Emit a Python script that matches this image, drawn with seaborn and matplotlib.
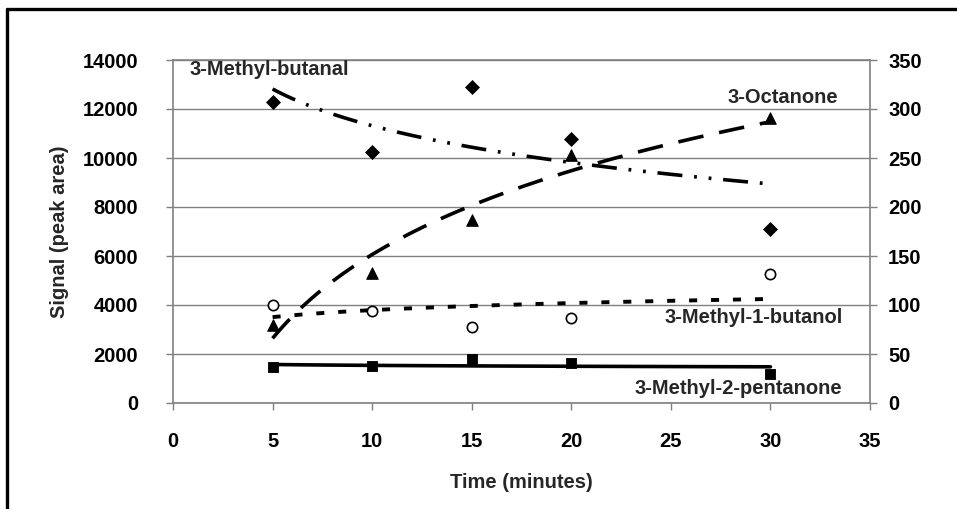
import numpy as np
import pandas as pd
import matplotlib
matplotlib.use("Agg")
import matplotlib.pyplot as plt
from matplotlib.lines import Line2D
import seaborn as sns

# ---- data ----
time_min = [5, 10, 15, 20, 30]
methyl_butanal = [12300, 10250, 12900, 10780, 7100]      # left axis
octanone = [79.6, 132.7, 186.7, 253, 291]                  # right axis
methyl_1_butanol = [4000, 3750, 3100, 3470, 5260]          # left axis
methyl_2_pentanone = [1450, 1500, 1800, 1650, 1200]        # left axis
left_ticks = [0, 2000, 4000, 6000, 8000, 10000, 12000, 14000]
right_ticks = [0, 50, 100, 150, 200, 250, 300, 350]
x_ticks = [0, 5, 10, 15, 20, 25, 30, 35]

sns.set_style("white")
plt.rcParams["font.family"] = ["Liberation Sans", "DejaVu Sans"]
plt.rcParams["font.weight"] = "bold"
plt.rcParams["lines.scale_dashes"] = False

FS = 14.5
GRAY = "#808080"

fig = plt.figure(figsize=(9.57, 5.09), dpi=100)
W, H = 957, 509
ax = fig.add_axes([173 / W, 1 - 403 / H, (870 - 173) / W, (403 - 60) / H])
ax2 = ax.twinx()

df = pd.DataFrame({
    "t": time_min,
    "butanal": methyl_butanal,
    "octanone": octanone,
    "butanol": methyl_1_butanol,
    "pentanone": methyl_2_pentanone,
})

# trend lines (logarithmic fits)
sns.regplot(data=df, x="t", y="butanal", logx=True, ci=None, scatter=False, ax=ax,
            line_kws=dict(color="black", lw=2.6, ls=(0, (18, 8.5, 2, 8.5, 2, 8.5))))
sns.regplot(data=df, x="t", y="butanol", logx=True, ci=None, scatter=False, ax=ax,
            line_kws=dict(color="black", lw=2.8, ls=(0, (5.8, 10))))
sns.regplot(data=df, x="t", y="pentanone", logx=True, ci=None, scatter=False, ax=ax,
            line_kws=dict(color="black", lw=2.6, ls="-"))
sns.regplot(data=df, x="t", y="octanone", logx=True, ci=None, scatter=False, ax=ax2,
            line_kws=dict(color="black", lw=2.6, ls=(0, (18.5, 11.5))))

# markers
sns.scatterplot(data=df, x="t", y="butanal", marker="D", s=50, color="black",
                edgecolor="black", ax=ax, zorder=5)
sns.scatterplot(data=df, x="t", y="butanol", marker="o", s=55, facecolor="white",
                edgecolor="black", linewidth=1.2, ax=ax, zorder=5)
sns.scatterplot(data=df, x="t", y="pentanone", marker="s", s=60, color="black",
                edgecolor="black", ax=ax, zorder=5)
sns.scatterplot(data=df, x="t", y="octanone", marker="^", s=70, color="black",
                edgecolor="black", ax=ax2, zorder=5)

# axes
ax.set_xlim(0, 35)
ax.set_ylim(0, 14000)
ax2.set_ylim(0, 350)
ax.set_xticks(x_ticks)
ax.set_yticks(left_ticks)
ax2.set_yticks(right_ticks)
ax.set_xticklabels([str(v) for v in x_ticks], fontsize=FS, fontweight="bold")
ax.set_yticklabels([str(v) for v in left_ticks], fontsize=FS, fontweight="bold")
ax2.set_yticklabels([str(v) for v in right_ticks], fontsize=FS, fontweight="bold")
ax.set_xlabel("")
ax.set_ylabel("")
ax2.set_ylabel("")

ax.yaxis.grid(True, color=GRAY, lw=1.0)
ax.xaxis.grid(False)
ax2.grid(False)
for a in (ax, ax2):
    for s in a.spines.values():
        s.set_visible(False)
ax.spines["left"].set_visible(True)
ax.spines["bottom"].set_visible(True)
ax.spines["top"].set_visible(True)
ax2.spines["right"].set_visible(True)
for s in (ax.spines["left"], ax.spines["bottom"], ax.spines["top"], ax2.spines["right"]):
    s.set_color(GRAY)
    s.set_linewidth(1.2)

ax.tick_params(axis="x", direction="out", length=5, width=1.0, color=GRAY, pad=16, labelcolor="black")
ax.tick_params(axis="y", direction="out", length=5, width=1.0, color=GRAY, pad=20, labelcolor="black", left=True)
ax2.tick_params(axis="y", direction="out", length=5, width=1.0, color=GRAY, pad=8, labelcolor="black", right=True)
ax.tick_params(axis="x", bottom=True)

# series labels
ax.text(0.85, 13600, "3-Methyl-butanal", fontsize=FS, fontweight="bold", ha="left", va="center")
ax.text(33.4, 12480, "3-Octanone", fontsize=FS, fontweight="bold", ha="right", va="center")
ax.text(33.65, 3470, "3-Methyl-1-butanol", fontsize=FS, fontweight="bold", ha="right", va="center")
ax.text(33.6, 610, "3-Methyl-2-pentanone", fontsize=FS, fontweight="bold", ha="right", va="center")

# axis titles
fig.text(60 / W, 1 - 231.5 / H, "Signal (peak area)", rotation=90, fontsize=FS,
         fontweight="bold", ha="center", va="center")
fig.text(521 / W, 1 - 482 / H, "Time (minutes)", fontsize=FS, fontweight="bold",
         ha="center", va="center")

# outer frame (left and top edges)
fig.add_artist(Line2D([7 / W, 7 / W], [0, 1 - 9 / H], transform=fig.transFigure,
                      color="black", lw=2.4))
fig.add_artist(Line2D([7 / W, 1], [1 - 9 / H, 1 - 9 / H], transform=fig.transFigure,
                      color="black", lw=2.4))

fig.savefig("out.png", dpi=100, facecolor="white")
